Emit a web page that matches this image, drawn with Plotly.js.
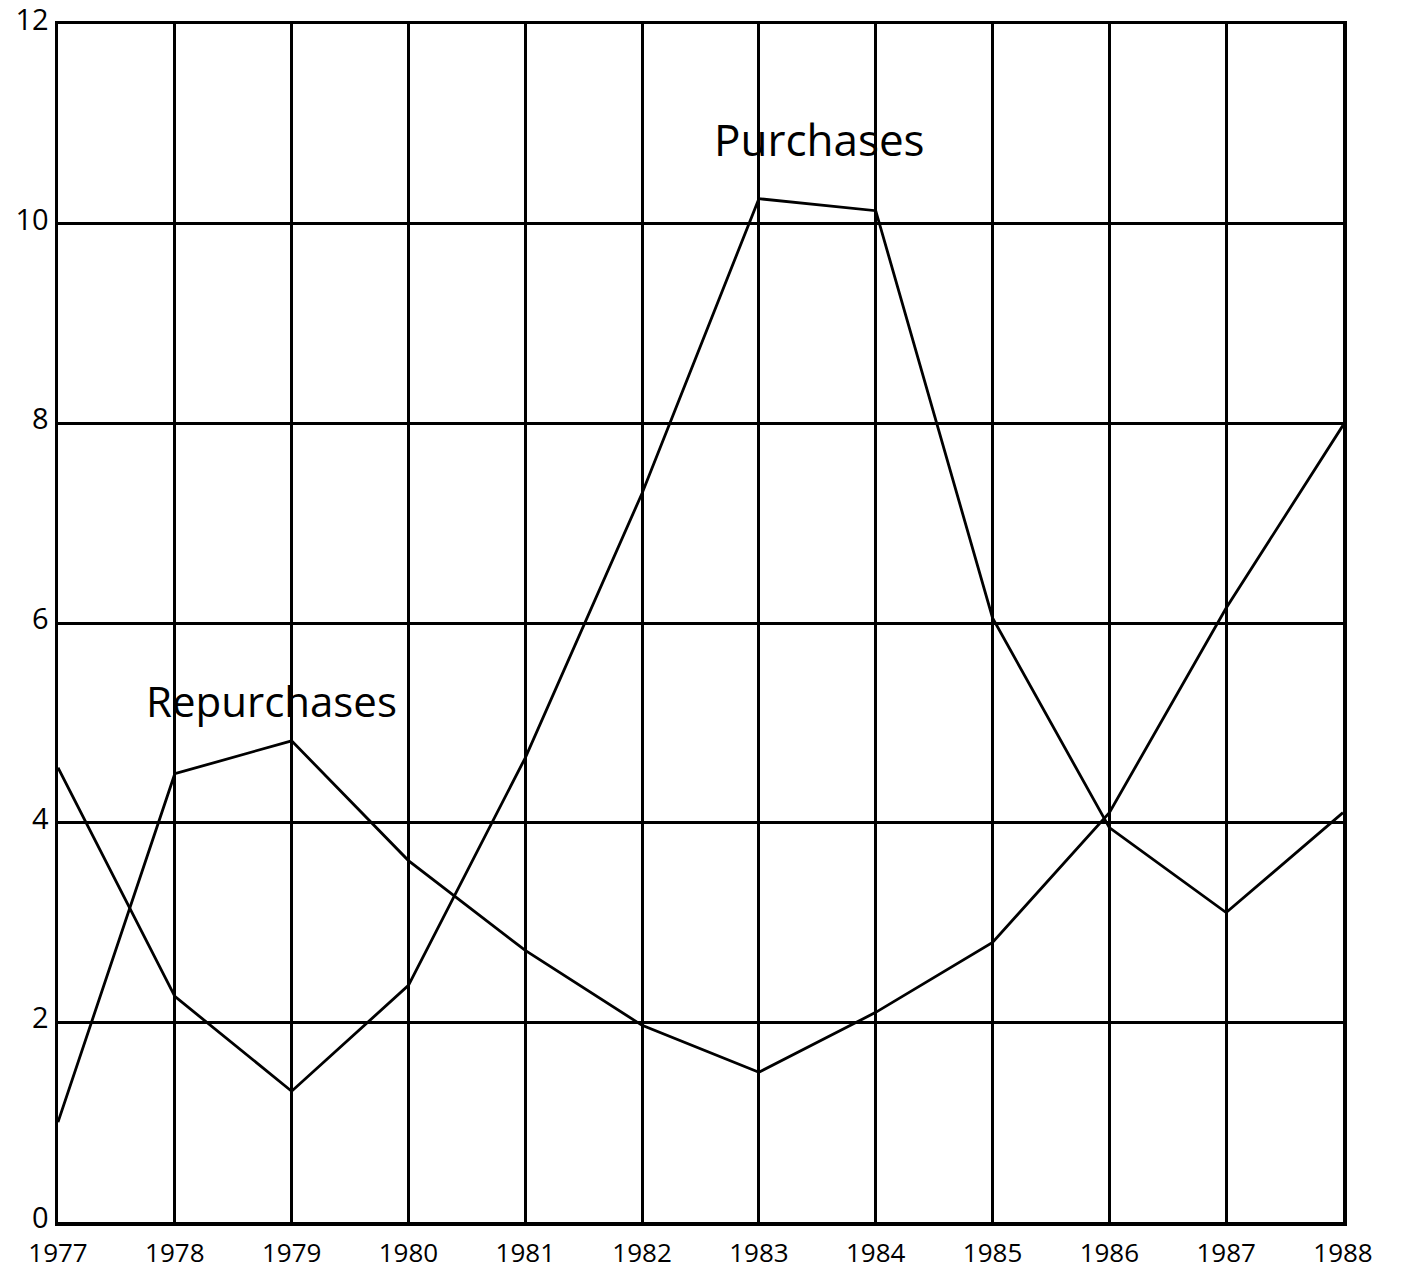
<!DOCTYPE html>
<html>
<head>
<meta charset="utf-8">
<script src="https://cdn.plot.ly/plotly-3.0.1.min.js"></script>
<style>html,body{margin:0;padding:0;background:#fff;}#chart{width:1402px;height:1273px;}</style>
</head>
<body>
<div id="chart"></div>
<script>
const years = [1977,1978,1979,1980,1981,1982,1983,1984,1985,1986,1987,1988];
const purchases = [4.55,2.26,1.31,2.37,4.65,7.3,10.25,10.13,6.05,3.95,3.1,4.1];
const repurchases = [1.0,4.49,4.82,3.62,2.72,1.97,1.5,2.1,2.8,4.1,6.15,7.98];
const yTicks = [0,2,4,6,8,10,12];

const lineStyle = {color:'#000', width:2.8};
const traces = [
  {x:years, y:purchases, type:'scatter', mode:'lines', name:'Purchases', line:lineStyle, showlegend:false},
  {x:years, y:repurchases, type:'scatter', mode:'lines', name:'Repurchases', line:lineStyle, showlegend:false}
];

const font = {family:'"Open Sans", "DejaVu Sans", sans-serif', color:'#000'};
const layout = {
  width:1402, height:1273,
  margin:{l:58, r:59, t:24, b:51},
  paper_bgcolor:'#fff', plot_bgcolor:'#fff',
  font:font,
  xaxis:{
    range:[1977,1988], tickmode:'array', tickvals:years, ticktext:years.map(String),
    showgrid:true, gridcolor:'#000', gridwidth:3,
    showline:true, mirror:true, linecolor:'#000', linewidth:3.5,
    zeroline:false, ticks:'', ticklabeloverflow:'allow', ticklabelstandoff:5,
    tickfont:{size:26, family:font.family, color:'#000'}
  },
  yaxis:{
    range:[0,12], tickmode:'array', tickvals:yTicks, ticktext:yTicks.map(String),
    showgrid:true, gridcolor:'#000', gridwidth:3,
    showline:true, mirror:true, linecolor:'#000', linewidth:3.5,
    zeroline:false, ticks:'', ticklabeloverflow:'allow', ticklabelshift:-4,
    tickfont:{size:29, family:font.family, color:'#000'}
  },
  annotations:[
    {x:1983.52, y:10.85, xref:'x', yref:'y', text:'Purchases', showarrow:false,
     font:{size:44, family:font.family, color:'#000'}},
    {x:1978.83, y:5.22, xref:'x', yref:'y', text:'Repurchases', showarrow:false,
     font:{size:42, family:font.family, color:'#000'}}
  ]
};
Plotly.newPlot('chart', traces, layout, {displayModeBar:false, staticPlot:true});
</script>
</body>
</html>
